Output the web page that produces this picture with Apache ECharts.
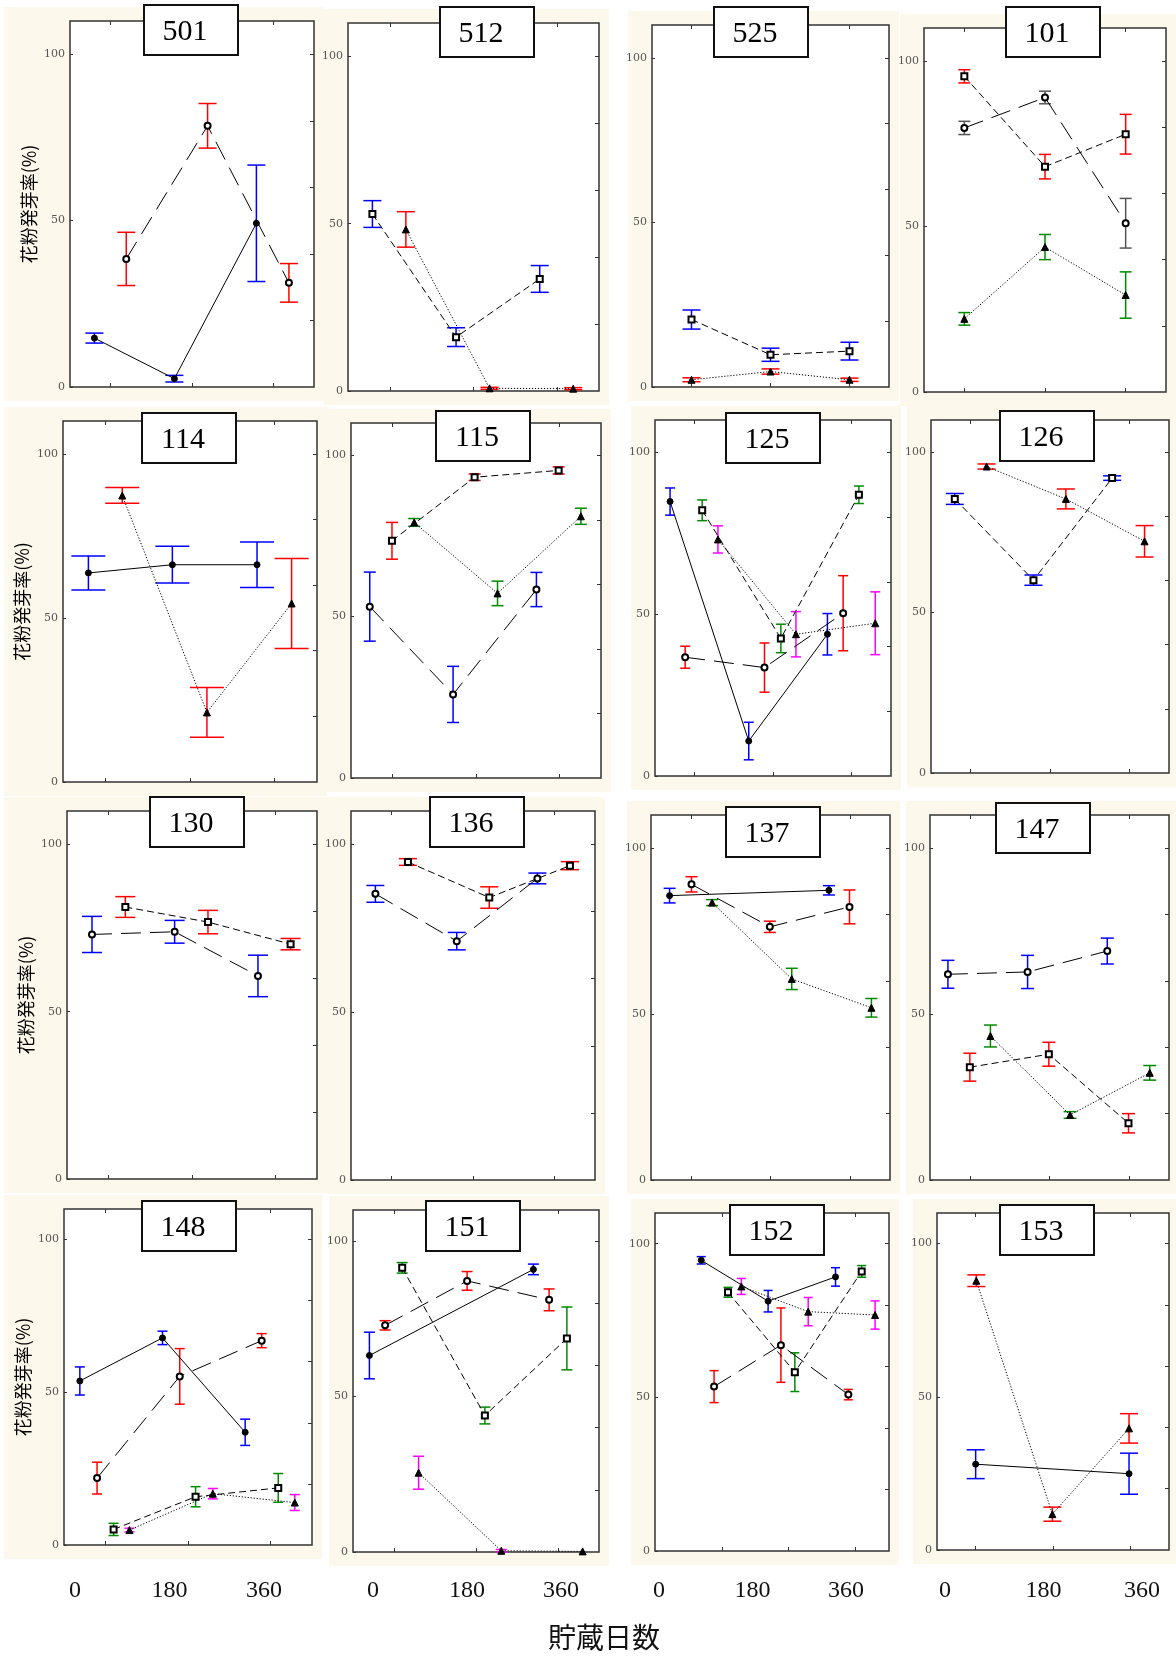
<!DOCTYPE html>
<html lang="ja">
<head>
<meta charset="utf-8" />
<title>花粉発芽率と貯蔵日数</title>
<style>
  html, body { margin: 0; padding: 0; background: #fff; }
  #chart { width: 1176px; height: 1664px; }
</style>
</head>
<body>
<div id="chart"></div>
<script src="https://cdn.jsdelivr.net/npm/echarts@6/dist/echarts.min.js"></script>
<script>
// ---- data: [貯蔵日数, 発芽率(%), 誤差] ----
const p501_filled = [[36, 14.7, 1.5], [154, 2.5, 1.0], [275, 49.2, 17.5]];
const p501_open   = [[83, 38.5, 8.0], [203, 78.5, 6.7], [323, 31.3, 5.8]];

const p512_square = [[35, 52.9, 4.0], [155, 16.1, 2.8], [275, 33.5, 4.0]];
const p512_tri    = [[83, 48.3, 5.3], [203, 0.8, 0.3], [323, 0.7, 0.3]];

const p525_square = [[60, 20.5, 2.9], [180, 9.8, 2.0], [300, 10.9, 2.7]];
const p525_tri    = [[60, 2.2, 0.6], [180, 4.7, 0.8], [300, 2.2, 0.5]];

const p101_open   = [[60, 79.8, 2.0], [180, 89.0, 1.9], [300, 51.0, 7.5]];
const p101_square = [[60, 95.4, 2.0], [180, 68.1, 3.7], [300, 77.9, 6.0]];
const p101_tri    = [[60, 22.1, 1.9], [180, 43.8, 3.8], [300, 29.3, 7.0]];

const p114_filled = [[36, 63.7, 5.2], [155, 66.2, 5.6], [275, 66.2, 6.9]];
const p114_tri    = [[84, 87.3, 2.4], [204, 21.2, 7.6], [324, 54.4, 13.7]];

const p115_open   = [[27, 53.1, 10.7], [147, 25.9, 8.7], [267, 58.4, 5.3]];
const p115_square = [[59, 73.5, 5.7], [178, 93.2, 1.0], [299, 95.3, 1.1]];
const p115_tri    = [[91, 79.2, 1.2], [211, 57.2, 3.8], [331, 81.1, 2.5]];

const p125_filled = [[23, 84.8, 4.2], [143, 10.8, 5.8], [263, 43.8, 6.4]];
const p125_open   = [[46, 36.7, 3.4], [167, 33.5, 7.6], [287, 50.3, 11.6]];
const p125_square = [[72, 82.1, 3.2], [192, 42.5, 4.4], [311, 86.9, 2.7]];
const p125_tri    = [[96, 73.1, 4.2], [215, 43.8, 7.0], [336, 47.2, 9.7]];

const p126_square = [[36, 85.4, 1.7], [155, 60.1, 1.6], [274, 91.9, 0.7]];
const p126_tri    = [[84, 95.5, 0.8], [204, 85.4, 3.1], [323, 72.2, 4.9]];

const p130_open   = [[36, 73.1, 5.4], [155, 73.9, 3.4], [275, 60.7, 6.2]];
const p130_square = [[84, 81.3, 3.1], [203, 76.8, 3.5], [322, 70.2, 1.7]];

const p136_open   = [[36, 85.3, 2.5], [156, 71.2, 2.6], [275, 89.9, 1.6]];
const p136_square = [[84, 94.8, 1.0], [204, 84.2, 3.2], [323, 93.7, 1.2]];

const p137_filled = [[28, 85.7, 2.2], [268, 87.3, 1.4]];
const p137_open   = [[61, 89.1, 2.3], [179, 76.3, 1.7], [299, 82.3, 5.1]];
const p137_tri    = [[92, 83.6, 0.9], [212, 60.6, 3.2], [332, 51.9, 2.8]];

const p147_open   = [[27, 62.0, 4.2], [147, 62.7, 5.0], [267, 69.0, 3.9]];
const p147_square = [[60, 34.0, 4.2], [179, 37.9, 3.6], [299, 17.1, 2.9]];
const p147_tri    = [[91, 43.4, 3.3], [211, 19.6, 1.0], [331, 32.3, 2.2]];

const p148_filled = [[23, 53.7, 4.6], [143, 67.8, 2.2], [263, 36.9, 4.3]];
const p148_open   = [[48, 21.9, 5.2], [168, 55.2, 9.1], [287, 66.9, 2.3]];
const p148_square = [[72, 5.1, 2.0], [191, 15.8, 3.3], [311, 18.7, 4.7]];
const p148_tri    = [[95, 4.9, 0.6], [216, 16.8, 1.7], [335, 13.9, 2.6]];

const p151_filled = [[24, 63.2, 7.5], [264, 90.9, 1.7]];
const p151_open   = [[47, 72.9, 1.5], [167, 87.2, 3.0], [287, 81.1, 3.5]];
const p151_square = [[72, 91.4, 1.7], [193, 43.9, 2.7], [313, 68.7, 10.1]];
const p151_tri    = [[96, 25.5, 5.3], [217, 0.4, 0.4], [336, 0.2, 0]];

const p152_filled = [[23, 94.6, 1.2], [143, 81.3, 3.5], [264, 89.2, 3.0]];
const p152_open   = [[46, 53.5, 5.2], [166, 67.0, 12.1], [287, 50.9, 1.7]];
const p152_square = [[71, 84.2, 1.6], [191, 58.2, 6.3], [311, 91.0, 1.9]];
const p152_tri    = [[95, 86.1, 2.6], [215, 77.9, 4.6], [335, 76.8, 4.6]];

const p153_filled = [[60, 28.0, 4.7], [298, 24.9, 6.7]];
const p153_tri    = [[61, 87.9, 1.9], [179, 11.7, 2.3], [298, 39.7, 4.8]];

const xTicks = [60, 180, 300];
const yLabels = [0, 50, 100];
const yMinorTicks = [20, 40, 60, 80, 100];
const dayLabels = [0, 180, 360];

// ---- styles ----
const KIND = {
  filled: { symbol: 'circle', size: 6, line: 'solid' },
  open:   { symbol: 'emptyCircle', size: 6, line: [20, 9] },
  square: { symbol: 'emptyRect', size: 6, line: [7, 4] },
  tri:    { symbol: 'triangle', size: 7, line: [1.2, 1.8] }
};
const BAR = { blue: '#0000ff', red: '#ff0000', green: '#008a00', gray: '#555555', magenta: '#ff00ff' };

// box: [left, top, width, height], tb: title box [x, y]
const panels = [
  { id: '501', box: [70, 21, 244, 366], tb: [144, 5], cap: 9,
    s: [['filled', 'blue', p501_filled], ['open', 'red', p501_open]] },
  { id: '512', box: [348, 23, 251, 368], tb: [440, 7], cap: 9,
    s: [['square', 'blue', p512_square], ['tri', 'red', p512_tri]] },
  { id: '525', box: [652, 25, 237, 362], tb: [714, 7], cap: 9,
    s: [['square', 'blue', p525_square], ['tri', 'red', p525_tri]] },
  { id: '101', box: [924, 28, 242, 364], tb: [1006, 7], cap: 6,
    s: [['open', 'gray', p101_open], ['square', 'red', p101_square], ['tri', 'green', p101_tri]] },
  { id: '114', box: [63, 421, 254, 361], tb: [142, 413], cap: 17,
    s: [['filled', 'blue', p114_filled], ['tri', 'red', p114_tri]] },
  { id: '115', box: [351, 423, 250, 355], tb: [436, 411], cap: 6,
    s: [['open', 'blue', p115_open], ['square', 'red', p115_square], ['tri', 'green', p115_tri]] },
  { id: '125', box: [655, 420, 236, 356], tb: [726, 413], cap: 5,
    s: [['filled', 'blue', p125_filled], ['open', 'red', p125_open], ['square', 'green', p125_square], ['tri', 'magenta', p125_tri]] },
  { id: '126', box: [931, 420, 238, 353], tb: [1000, 411], cap: 9,
    s: [['square', 'blue', p126_square], ['tri', 'red', p126_tri]] },
  { id: '130', box: [67, 811, 250, 368], tb: [150, 797], cap: 10,
    s: [['open', 'blue', p130_open], ['square', 'red', p130_square]] },
  { id: '136', box: [351, 811, 244, 369], tb: [430, 797], cap: 9,
    s: [['open', 'blue', p136_open], ['square', 'red', p136_square]] },
  { id: '137', box: [651, 815, 239, 365], tb: [726, 807], cap: 6,
    s: [['filled', 'blue', p137_filled], ['open', 'red', p137_open], ['tri', 'green', p137_tri]] },
  { id: '147', box: [930, 815, 239, 365], tb: [996, 803], cap: 6.5,
    s: [['open', 'blue', p147_open], ['square', 'red', p147_square], ['tri', 'green', p147_tri]] },
  { id: '148', box: [64, 1209, 248, 336], tb: [142, 1201], cap: 5,
    s: [['filled', 'blue', p148_filled], ['open', 'red', p148_open], ['square', 'green', p148_square], ['tri', 'magenta', p148_tri]] },
  { id: '151', box: [353, 1210, 246, 342], tb: [426, 1201], cap: 5.5,
    s: [['filled', 'blue', p151_filled], ['open', 'red', p151_open], ['square', 'green', p151_square], ['tri', 'magenta', p151_tri]] },
  { id: '152', box: [655, 1213, 234, 338], tb: [730, 1205], cap: 4.5, xmin: -60,
    s: [['filled', 'blue', p152_filled], ['open', 'red', p152_open], ['square', 'green', p152_square], ['tri', 'magenta', p152_tri]] },
  { id: '153', box: [937, 1213, 232, 337], tb: [1000, 1205], cap: 9,
    s: [['filled', 'blue', p153_filled], ['tri', 'red', p153_tri]] }
];

// 下の日数目盛り（列ごと）: [left, width]
const dayAxisPos = [[75, 189], [373, 188], [659, 187], [945, 197]];

const chart = echarts.init(document.getElementById('chart'));

function errRender(color, cap) {
  return function (params, api) {
    const x = api.value(0), y = api.value(1), e = api.value(2);
    if (!(e > 0)) return { type: 'group', children: [] };
    const t = api.coord([x, y + e]);
    const b = api.coord([x, Math.max(y - e, 0)]);
    const st = { stroke: color, lineWidth: 1.5 };
    return {
      type: 'group',
      children: [
        { type: 'line', shape: { x1: t[0], y1: t[1], x2: b[0], y2: b[1] }, style: st },
        { type: 'line', shape: { x1: t[0] - cap, y1: t[1], x2: t[0] + cap, y2: t[1] }, style: st },
        { type: 'line', shape: { x1: b[0] - cap, y1: b[1], x2: b[0] + cap, y2: b[1] }, style: st }
      ]
    };
  };
}

const grids = [], xAxes = [], yAxes = [], series = [], graphics = [];
const CREAM = '#fdf8ec';
const noLine = { show: false, onZero: false };

panels.forEach(function (p, i) {
  const col = i % 4;
  const [L, T, W, H] = p.box;
  grids.push({ left: L, top: T, width: W, height: H, show: true,
    backgroundColor: '#fff', borderColor: '#333', borderWidth: 1.5 });

  const xmin = p.xmin !== undefined ? p.xmin : 0;
  const xBase = {
    gridIndex: i, type: 'value', min: xmin, max: 360,
    axisLine: noLine, splitLine: { show: false }, axisLabel: { show: false },
    axisTick: { inside: true, length: 4, customValues: xTicks, lineStyle: { color: '#333' } }
  };
  xAxes.push(Object.assign({ position: 'bottom' }, xBase));
  xAxes.push(Object.assign({ position: 'top' }, xBase));

  yAxes.push({
    gridIndex: i, type: 'value', min: 0, max: 110, position: 'left',
    axisLine: noLine, splitLine: { show: false },
    axisTick: { inside: true, length: 3, customValues: yLabels, lineStyle: { color: '#333' } },
    axisLabel: { customValues: yLabels, fontSize: 11, color: '#555', fontFamily: 'DejaVu Serif', margin: 5 },
    name: col === 0 ? '花粉発芽率(%)' : '',
    nameLocation: 'middle', nameRotate: 90, nameGap: 32,
    nameTextStyle: { fontSize: 18, fontFamily: 'Noto Sans CJK JP', color: '#000' }
  });
  yAxes.push({
    gridIndex: i, type: 'value', min: 0, max: 110, position: 'right',
    axisLine: noLine, splitLine: { show: false }, axisLabel: { show: false },
    axisTick: { inside: true, length: 4, customValues: yMinorTicks, lineStyle: { color: '#333' } }
  });

  p.s.forEach(function (s) {
    const k = KIND[s[0]];
    series.push({
      type: 'custom', xAxisIndex: i * 2, yAxisIndex: i * 2, z: 2,
      renderItem: errRender(BAR[s[1]], p.cap),
      data: s[2], silent: true
    });
    series.push({
      type: 'line', xAxisIndex: i * 2, yAxisIndex: i * 2, z: 3,
      data: s[2].map(function (d) { return [d[0], d[1]]; }),
      symbol: k.symbol, symbolSize: k.size, showSymbol: true,
      itemStyle: { color: '#000', borderColor: '#000', borderWidth: 1 },
      lineStyle: { color: '#000', width: 1, type: k.line },
      silent: true
    });
  });

  // cream panel background
  const bx0 = col === 0 ? 4 : L - 24;
  const bx1 = col === 3 ? 1176 : L + W + 10;
  graphics.push({ type: 'rect', z: -10, silent: true,
    shape: { x: bx0, y: T - 14, width: bx1 - bx0, height: H + 28 },
    style: { fill: CREAM } });

  // title box
  graphics.push({ type: 'rect', z: 100, silent: true,
    shape: { x: p.tb[0], y: p.tb[1], width: 94, height: 50 },
    style: { fill: '#fff', stroke: '#111', lineWidth: 2 } });
  graphics.push({ type: 'text', z: 101, silent: true,
    style: { text: p.id, x: p.tb[0] + 41, y: p.tb[1] + 27, align: 'center', verticalAlign: 'middle',
      font: '30px "Liberation Serif"', fill: '#000' } });
});

// bottom day labels, one axis per column
dayAxisPos.forEach(function (d, c) {
  const gi = grids.length;
  grids.push({ left: d[0], top: 1576, width: d[1], height: 1, show: false });
  xAxes.push({
    gridIndex: gi, type: 'value', min: 0, max: 360,
    axisLine: noLine, axisTick: { show: false }, splitLine: { show: false },
    axisLabel: { customValues: dayLabels, fontSize: 24, fontFamily: 'Liberation Serif', color: '#111', margin: 2 }
  });
  yAxes.push({ gridIndex: gi, type: 'value', show: false, axisLine: noLine });
});

graphics.push({ type: 'text', z: 101, silent: true,
  style: { text: '貯蔵日数', x: 604, y: 1637, align: 'center', verticalAlign: 'middle',
    font: '28px "Noto Sans CJK JP"', fill: '#111' } });

chart.setOption({
  animation: false,
  backgroundColor: '#fff',
  grid: grids,
  xAxis: xAxes,
  yAxis: yAxes,
  series: series,
  graphic: { elements: graphics }
});

window.onresize = function () { chart.resize(); };
</script>
</body>
</html>
